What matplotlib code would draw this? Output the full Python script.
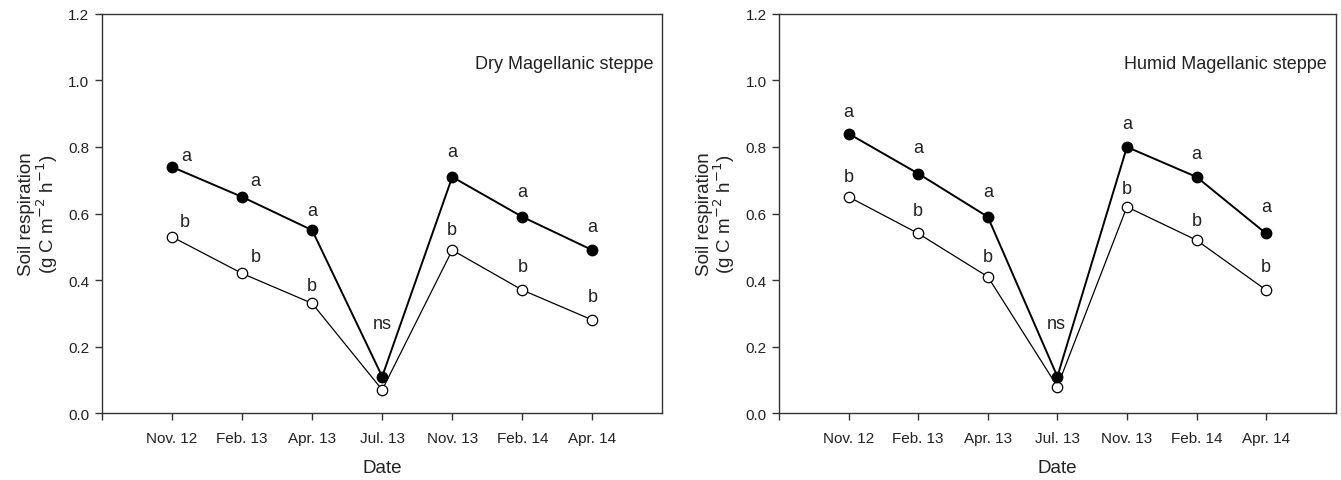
import matplotlib.pyplot as plt
import numpy as np

plt.rcParams['font.family'] = ['Liberation Sans', 'DejaVu Sans']

# data
dates = ['Nov. 12', 'Feb. 13', 'Apr. 13', 'Jul. 13', 'Nov. 13', 'Feb. 14', 'Apr. 14']
panel_titles = ['Dry Magellanic steppe', 'Humid Magellanic steppe']

dry_filled = [0.74, 0.65, 0.55, 0.11, 0.71, 0.59, 0.49]
dry_open = [0.53, 0.42, 0.33, 0.07, 0.49, 0.37, 0.28]
humid_filled = [0.84, 0.72, 0.59, 0.11, 0.80, 0.71, 0.54]
humid_open = [0.65, 0.54, 0.41, 0.08, 0.62, 0.52, 0.37]

filled_letters = ['a', 'a', 'a', 'ns', 'a', 'a', 'a']
open_letters = ['b', 'b', 'b', '', 'b', 'b', 'b']

# letter offsets (dx, dy) relative to point, in data units
dry_filled_off = [(0.2, 0.033), (0.19, 0.05), (0, 0.06), (0, 0.16), (0, 0.075), (0, 0.075), (0, 0.07)]
dry_open_off = [(0.19, 0.047), (0.2, 0.05), (0, 0.055), (0, 0), (0, 0.063), (0, 0.07), (0, 0.07)]
humid_filled_off = [(0, 0.068), (0, 0.077), (0, 0.075), (-0.02, 0.16), (0, 0.07), (0, 0.069), (0, 0.08)]
humid_open_off = [(0, 0.06), (0, 0.07), (0, 0.06), (0, 0), (0, 0.054), (0, 0.06), (0, 0.072)]

fig = plt.figure(figsize=(13.41, 4.81), dpi=100)
ax1 = fig.add_axes([0.076, 0.139, 0.418, 0.830])
ax2 = fig.add_axes([0.581, 0.139, 0.415, 0.830])

panels = [
    (ax1, dry_filled, dry_open, dry_filled_off, dry_open_off, panel_titles[0]),
    (ax2, humid_filled, humid_open, humid_filled_off, humid_open_off, panel_titles[1]),
]

x = np.arange(1, len(dates) + 1)
axcol = '#333333'
txtcol = '#222222'

for ax, yf, yo, offf, offo, title in panels:
    ax.plot(x, yo, color='black', lw=0.9, marker='o', ms=7.5,
            mfc='white', mec='black', mew=0.9, zorder=3)
    ax.plot(x, yf, color='black', lw=1.4, marker='o', ms=7.5,
            mfc='black', mec='black', zorder=4)
    for xi, yi, lab, (dx, dy) in zip(x, yf, filled_letters, offf):
        if lab:
            ax.text(xi + dx, yi + dy, lab, ha='center', va='center', fontsize=13, color=txtcol)
    for xi, yi, lab, (dx, dy) in zip(x, yo, open_letters, offo):
        if lab:
            ax.text(xi + dx, yi + dy, lab, ha='center', va='center', fontsize=13, color=txtcol)

    ax.text(7.87, 1.05, title, ha='right', va='center', fontsize=13, color=txtcol)

    ax.set_xlim(0, 8)
    ax.set_ylim(0, 1.2)
    ax.set_xticks(np.arange(0, 8))
    ax.set_xticklabels([''] + dates)
    ax.set_yticks(np.arange(0, 1.21, 0.2))
    ax.set_yticklabels(['%.1f' % v for v in np.arange(0, 1.21, 0.2)])
    ax.tick_params(direction='out', length=5, width=1, colors=axcol,
                   labelcolor=txtcol, labelsize=11, pad=4)
    ax.tick_params(axis='x', pad=8)
    for s in ax.spines.values():
        s.set_color(axcol)
        s.set_linewidth(1)
    ax.set_xlabel('Date', fontsize=13.5, color=txtcol, labelpad=10)
    ax.set_ylabel('Soil respiration\n(g C m$^{-2}$ h$^{-1}$)', fontsize=13.5,
                  color=txtcol, labelpad=6, linespacing=0.95)

fig.savefig('out.png', dpi=100)
